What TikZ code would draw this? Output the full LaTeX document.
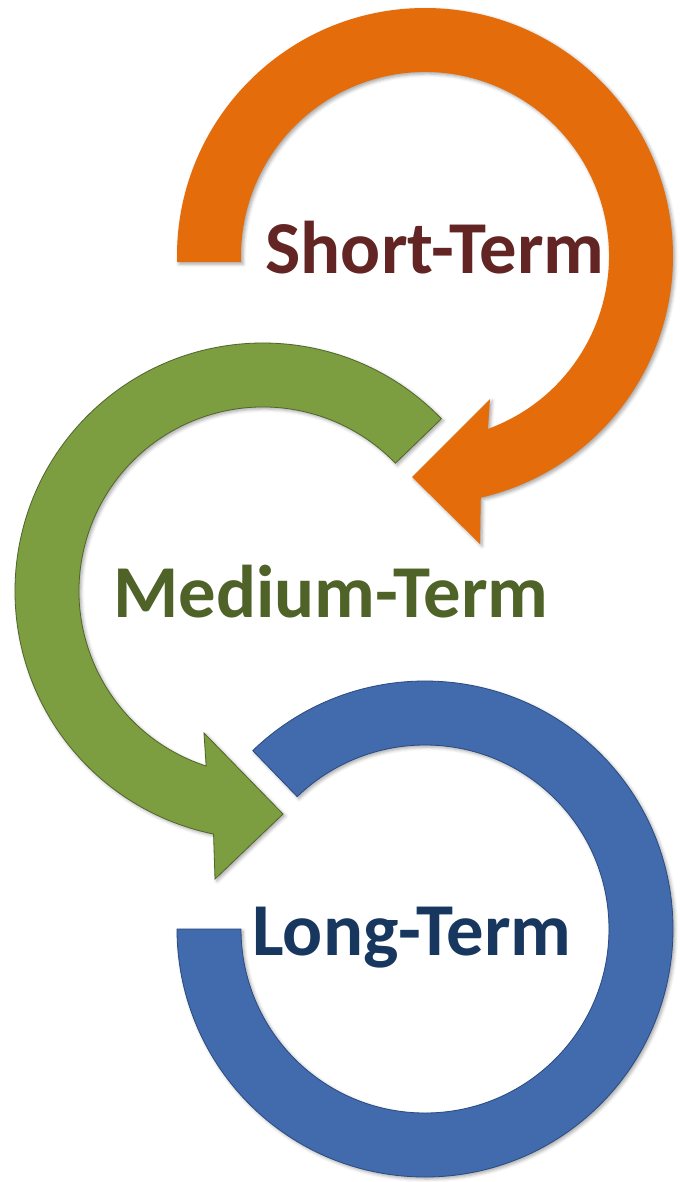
\documentclass[tikz,border=0pt]{standalone}
\usepackage{fontspec}
\setmainfont{Carlito}
\usetikzlibrary{shadows.blur}
\definecolor{orangeA}{HTML}{E46C0A}
\definecolor{greenA}{HTML}{7D9E40}
\definecolor{greenE}{HTML}{50652A}
\definecolor{blueA}{HTML}{416BAD}
\definecolor{blueE}{HTML}{2A4A80}
\definecolor{txtShort}{HTML}{632523}
\definecolor{txtMed}{HTML}{4F6228}
\definecolor{txtLong}{HTML}{17375E}
\begin{document}
\begin{tikzpicture}[x=0.75pt,y=0.75pt,
  sh/.style={blur shadow={shadow xshift=1.5pt,shadow yshift=-1.5pt,shadow blur radius=2.5pt,shadow opacity=35}},
  lbl/.style={font=\fontsize{56}{62}\selectfont\bfseries,anchor=base,inner sep=0pt}]
\useasboundingbox (0,0) rectangle (679,-1182);
% centers
\coordinate (co) at (425,-256);
\coordinate (cg) at (263,-591);
\coordinate (cb) at (425,-929);
% blue ring
\fill[blueA,draw=blueE,line width=0.6pt,sh] ($(cb)+(134:248)$) arc[start angle=134,end angle=-180,radius=248]
  -- ($(cb)+(180:184)$) arc[start angle=180,end angle=494,radius=184] -- cycle;
% green arrow
\fill[greenA,draw=greenE,line width=0.6pt,sh] ($(cg)+(44:248)$) arc[start angle=44,end angle=258.5,radius=248]
  -- (215,-879) -- (283,-814) -- (204,-733)
  -- ($(cg)+(252:184)$) arc[start angle=252,end angle=44,radius=184] -- cycle;
% orange arrow
\fill[orangeA,sh] ($(co)+(181.4:248)$) arc[start angle=181.4,end angle=-77,radius=248]
  -- (480,-544) -- (412,-477) -- (490,-399)
  -- ($(co)+(-70:184)$) arc[start angle=-70,end angle=181.9,radius=184] -- cycle;
% labels
\node[lbl,text=txtShort] (st) at (435,-273) {Short-Term};
\node[lbl,text=txtMed] (mt) at (331,-617) {Medium-Term};
\node[lbl,text=txtLong] (lt) at (412,-955) {Long-Term};
\end{tikzpicture}
\end{document}
